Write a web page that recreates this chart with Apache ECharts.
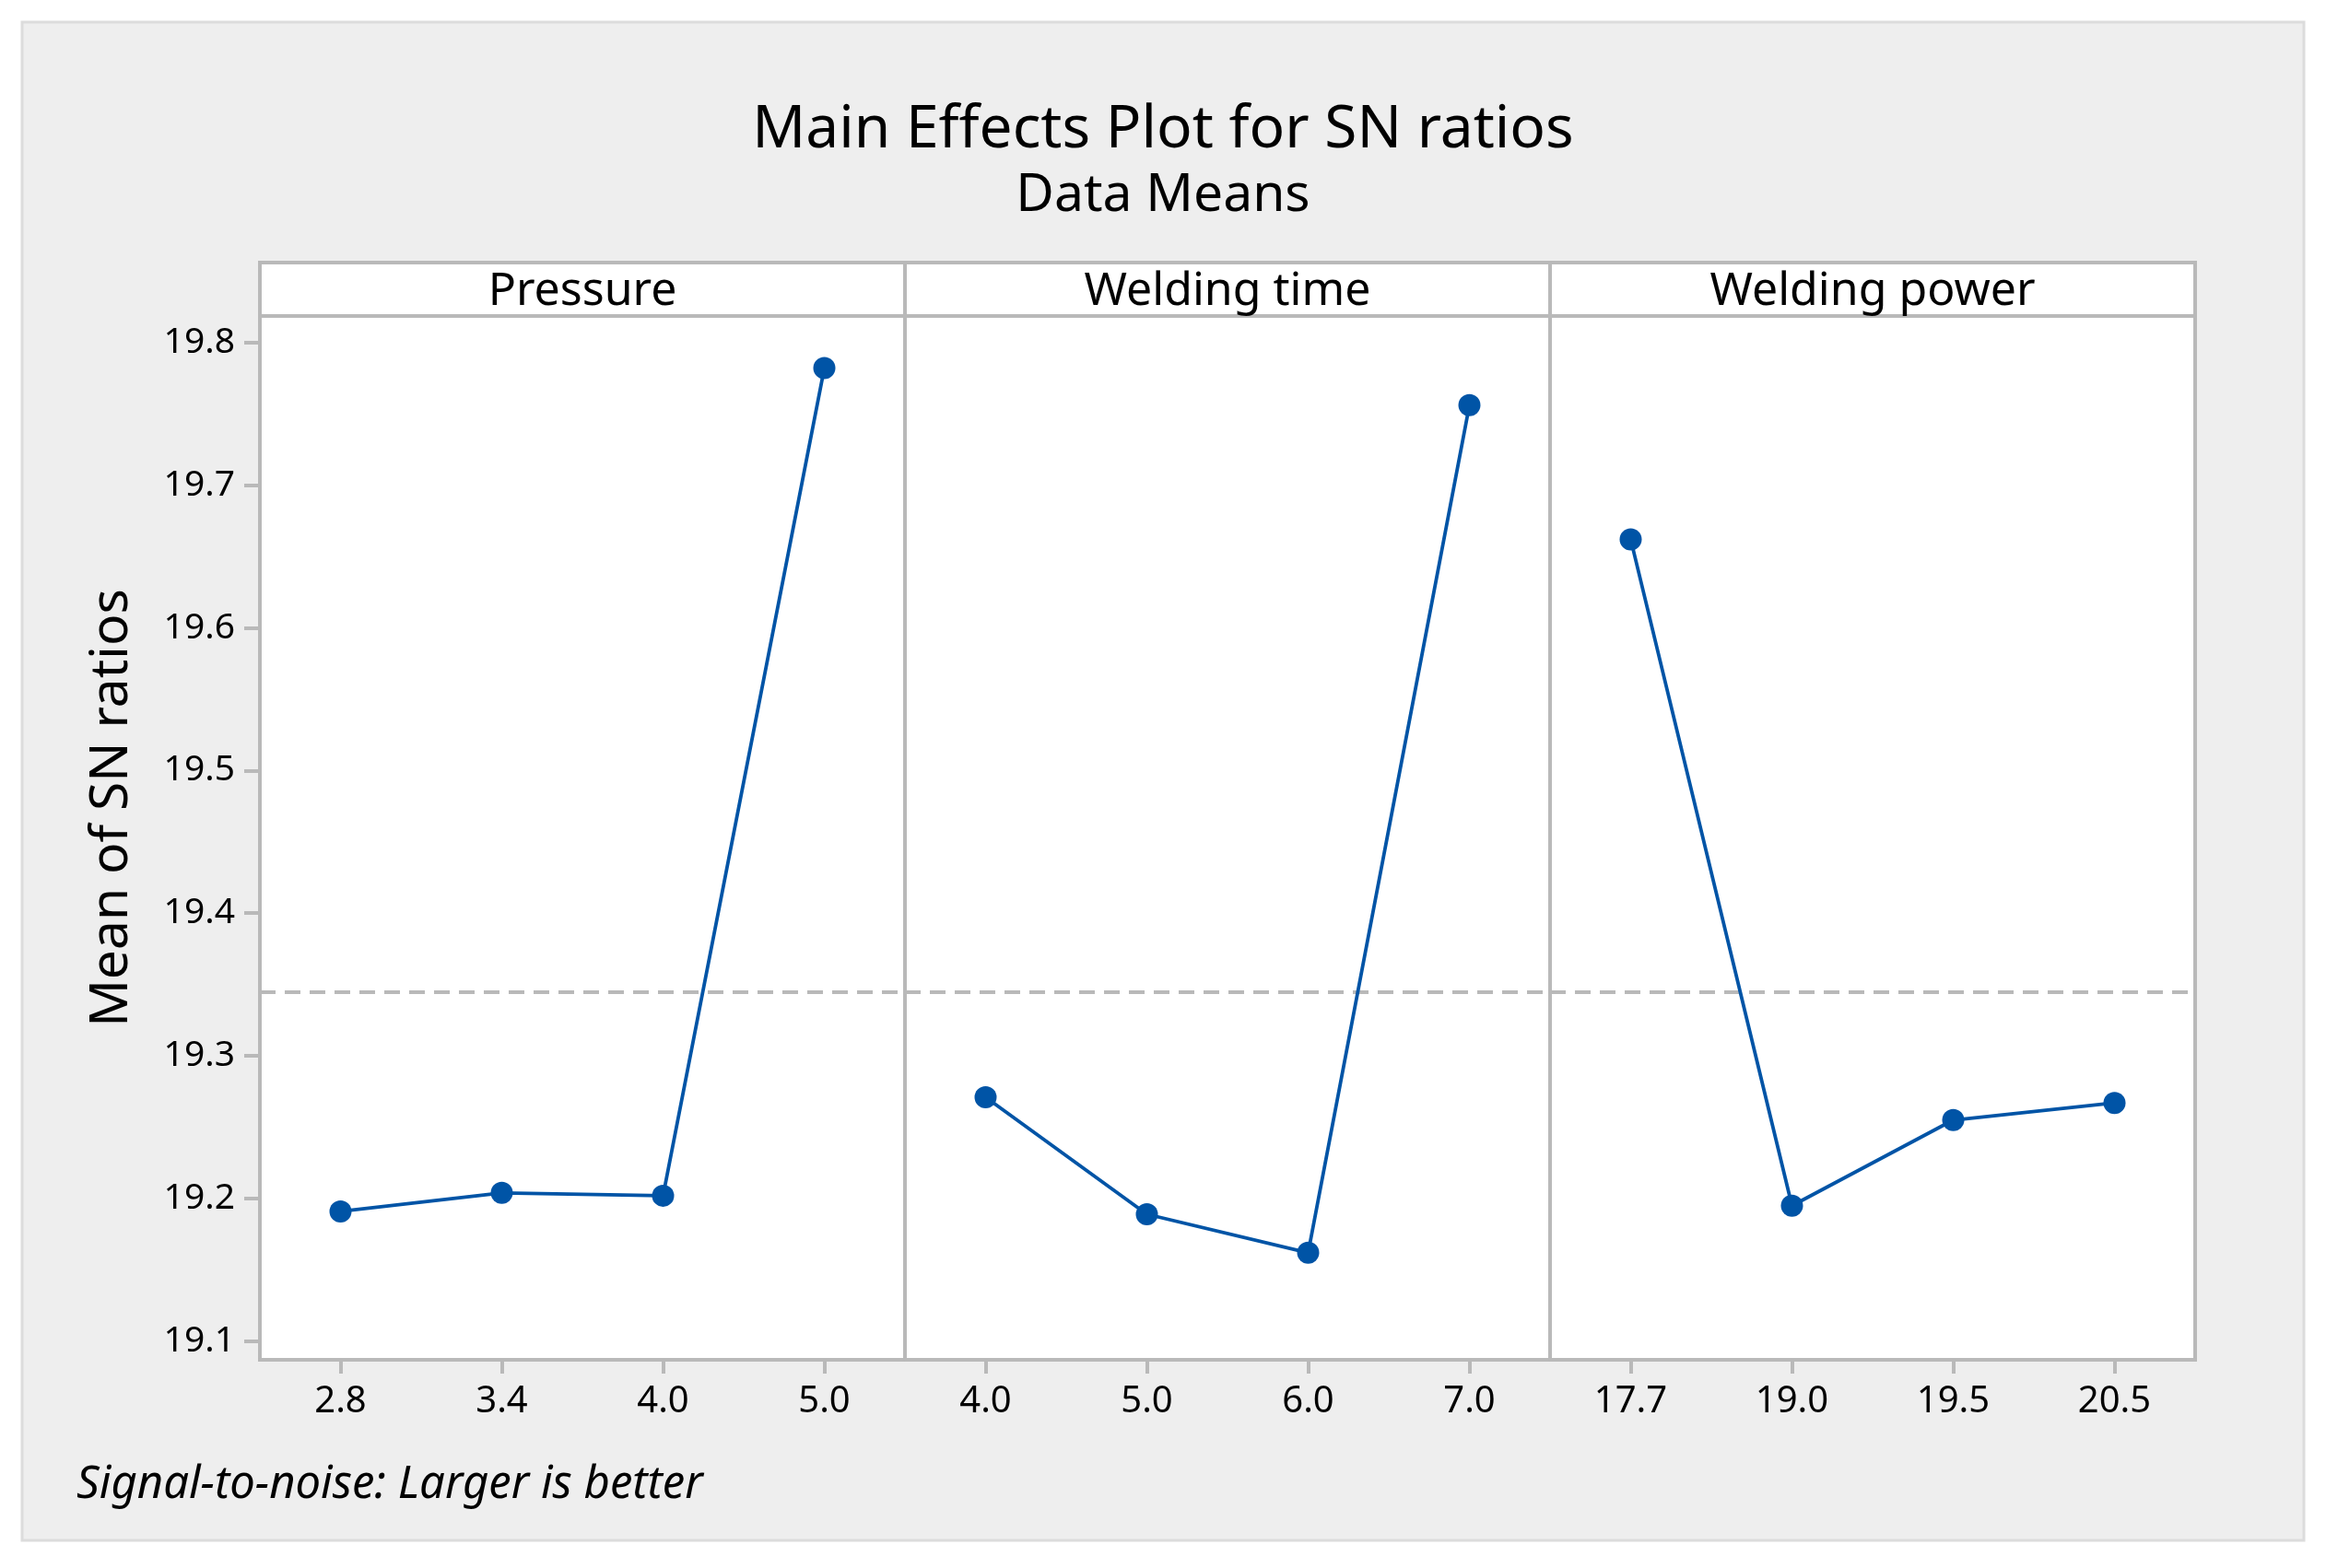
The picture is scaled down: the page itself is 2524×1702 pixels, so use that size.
<!DOCTYPE html>
<html>
<head>
<meta charset="utf-8">
<script src="https://cdn.jsdelivr.net/npm/echarts@6/dist/echarts.min.js"></script>
<style>
html,body{margin:0;padding:0;background:#fff;}
#chart{width:2524px;height:1702px;}
</style>
</head>
<body>
<div id="chart"></div>
<script>
// ---- Data ----
const panelNames = ['Pressure', 'Welding time', 'Welding power'];
const pressureLevels = ['2.8', '3.4', '4.0', '5.0'];
const pressureSN = [19.191, 19.204, 19.202, 19.782];
const timeLevels = ['4.0', '5.0', '6.0', '7.0'];
const timeSN = [19.271, 19.189, 19.162, 19.756];
const powerLevels = ['17.7', '19.0', '19.5', '20.5'];
const powerSN = [19.662, 19.195, 19.255, 19.267];
const yTicks = [19.1, 19.2, 19.3, 19.4, 19.5, 19.6, 19.7, 19.8];
const grandMean = 19.3447;
const yMin = 19.087, yMax = 19.8185;

const levels = [pressureLevels, timeLevels, powerLevels];
const values = [pressureSN, timeSN, powerSN];

const FONT = 'Noto Sans';
const GRAY = '#b9b9b9';
const BLUE = '#0054A6';
const gridLeft = [282, 982, 1682];
const gridW = 700, gridTop = 343, gridH = 1133;

const chart = echarts.init(document.getElementById('chart'));

const grids = [], xAxes = [], yAxes = [], series = [], graphics = [];

graphics.push({
  type: 'rect', z: -10,
  shape: {x: 24, y: 24, width: 2476, height: 1648},
  style: {fill: '#eeeeee', stroke: '#dcdcdc', lineWidth: 3}
});

for (let i = 0; i < 3; i++) {
  grids.push({
    left: gridLeft[i], top: gridTop, width: gridW, height: gridH,
    show: true, backgroundColor: '#ffffff', borderColor: GRAY, borderWidth: 4
  });
  xAxes.push({
    type: 'category', gridIndex: i, data: levels[i], boundaryGap: true,
    axisLine: {show: true, lineStyle: {color: GRAY, width: 4}},
    axisTick: {show: true, alignWithLabel: true, length: 15, lineStyle: {color: GRAY, width: 4}},
    axisLabel: {interval: 0, fontFamily: FONT, fontSize: 40, color: '#000', margin: 26},
    splitLine: {show: false}
  });
  yAxes.push({
    type: 'value', gridIndex: i, min: yMin, max: yMax, show: i === 0,
    axisLine: {show: true, lineStyle: {color: GRAY, width: 4}},
    axisTick: {show: true, length: 17, customValues: yTicks, lineStyle: {color: GRAY, width: 4}},
    axisLabel: {
      customValues: yTicks, fontFamily: FONT, fontSize: 39, color: '#000', margin: 27,
      formatter: v => Number(v).toFixed(1)
    },
    splitLine: {show: false}
  });
  series.push({
    type: 'line', xAxisIndex: i, yAxisIndex: i, data: values[i],
    symbol: 'circle', symbolSize: 24,
    lineStyle: {color: BLUE, width: 3.8},
    itemStyle: {color: BLUE},
    z: 5,
    markLine: {
      silent: true, symbol: 'none', label: {show: false}, precision: 6,
      lineStyle: {color: GRAY, width: 4, type: [17, 10]},
      data: [{yAxis: grandMean}]
    }
  });
  graphics.push({
    type: 'rect', z: 10,
    shape: {x: gridLeft[i], y: 285, width: gridW, height: 58},
    style: {fill: '#ffffff', stroke: GRAY, lineWidth: 4}
  });
  graphics.push({
    type: 'text', z: 11,
    x: gridLeft[i] + gridW / 2, y: 317,
    style: {text: panelNames[i], font: '50px "Noto Sans"', fill: '#000', textAlign: 'center', textVerticalAlign: 'middle'}
  });
}

graphics.push({
  type: 'text', z: 11, x: 122, y: 877, rotation: Math.PI / 2,
  style: {text: 'Mean of SN ratios', font: '57px "Noto Sans"', fill: '#000', textAlign: 'center', textVerticalAlign: 'middle'}
});
graphics.push({
  type: 'text', z: 11, x: 83, y: 1612,
  style: {text: 'Signal-to-noise: Larger is better', font: 'italic 49px "Noto Sans"', fill: '#000', textAlign: 'left', textVerticalAlign: 'middle'}
});

chart.setOption({
  backgroundColor: '#ffffff',
  animation: false,
  title: [
    {text: 'Main Effects Plot for SN ratios', left: 'center', top: 105,
     textStyle: {fontFamily: FONT, fontSize: 64, fontWeight: 'normal', color: '#000'}},
    {text: 'Data Means', left: 'center', top: 179,
     textStyle: {fontFamily: FONT, fontSize: 57, fontWeight: 'normal', color: '#000'}}
  ],
  grid: grids,
  xAxis: xAxes,
  yAxis: yAxes,
  series: series,
  graphic: graphics
});
</script>
</body>
</html>
